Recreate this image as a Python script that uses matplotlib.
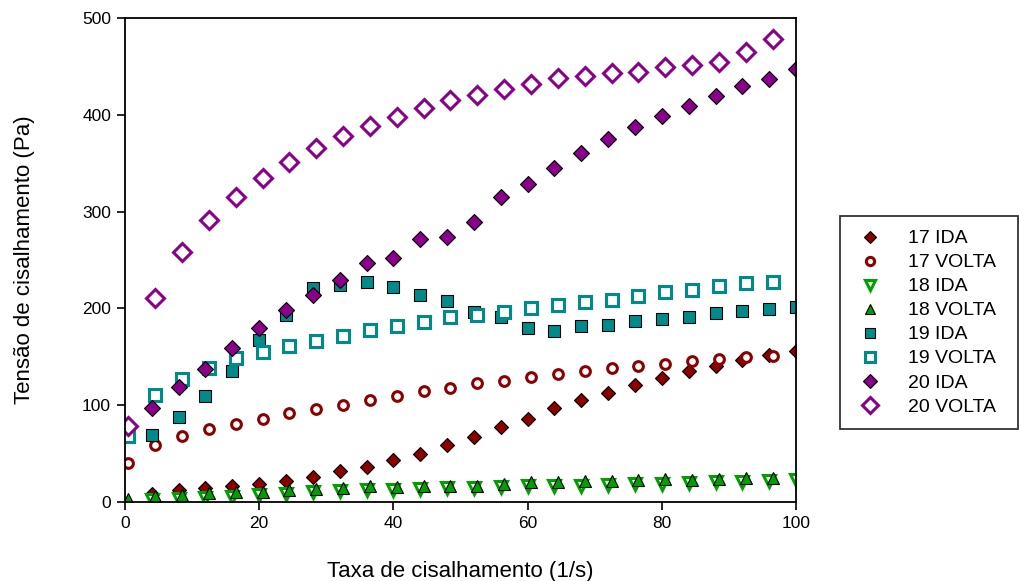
import matplotlib
matplotlib.use("Agg")
import matplotlib.pyplot as plt

plt.rcParams['font.family'] = ['Liberation Sans', 'DejaVu Sans']

# shear rate (1/s)
x_ida = [4, 8, 12, 16, 20, 24, 28, 32, 36, 40, 44, 48, 52, 56, 60,
         64, 68, 72, 76, 80, 84, 88, 92, 96, 100]
x_volta = [0.5, 4.5, 8.5, 12.5, 16.5, 20.5, 24.5, 28.5, 32.5, 36.5, 40.5, 44.5, 48.5,
           52.5, 56.5, 60.5, 64.5, 68.5, 72.5, 76.5, 80.5, 84.5, 88.5, 92.5, 96.5]

# shear stress (Pa)
s17_ida = [8, 12, 14, 16, 19, 22, 26, 32, 36, 43, 50, 59, 67, 77, 86,
           97, 105, 113, 121, 128, 135, 140, 147, 152, 156]
s17_volta = [40, 59, 68, 75, 81, 86, 92, 96, 100, 105, 110, 115, 118,
             123, 125, 129, 132, 135, 138, 140, 143, 146, 148, 150, 151]
s18_ida = [2, 3, 4, 5, 7, 8, 10, 11, 12, 12, 13, 14, 14, 15, 16,
           16, 17, 18, 19, 19, 20, 21, 21, 22, 23]
s18_volta = [3, 6, 7, 9, 10, 10, 12, 13, 14, 16, 15, 16, 17,
             17, 19, 21, 21, 22, 22, 23, 24, 23, 24, 25, 25]
s19_ida = [69, 88, 110, 135, 167, 193, 221, 224, 227, 222, 214, 208, 196, 191, 180,
           177, 182, 183, 187, 189, 191, 195, 197, 199, 201]
s19_volta = [68, 111, 127, 138, 149, 155, 161, 166, 171, 178, 182, 186, 191,
             193, 196, 200, 203, 207, 209, 213, 217, 219, 223, 226, 227]
s20_ida = [97, 119, 137, 159, 180, 198, 214, 229, 247, 252, 272, 274, 289, 315, 328,
           345, 361, 375, 387, 399, 409, 419, 430, 437, 447]
s20_volta = [78, 211, 258, 291, 315, 335, 351, 366, 378, 388, 398, 407, 415,
             420, 427, 432, 438, 440, 443, 444, 449, 451, 455, 465, 478]

red = '#8b0000'
green = '#00a000'
teal = '#008b8b'
purple = '#8b008b'

fig = plt.figure(figsize=(10.2, 5.81), dpi=100)
ax = fig.add_axes([0.1225, 0.136, 0.658, 0.833])

# filled markers -> black edge, open markers -> coloured edge, white fill
ax.plot(x_ida, s17_ida, 'D', color=red, mec='black', mew=0.8, ms=7, label='17 IDA', ls='none')
ax.plot(x_volta, s17_volta, 'o', mfc='white', mec=red, mew=2.2, ms=7, label='17 VOLTA', ls='none')
ax.plot(x_ida, s18_ida, 'v', mfc='white', mec=green, mew=2.2, ms=8, label='18 IDA', ls='none')
ax.plot(x_volta, s18_volta, '^', color=green, mec='black', mew=0.8, ms=8, label='18 VOLTA', ls='none')
ax.plot(x_ida, s19_ida, 's', color=teal, mec='black', mew=0.8, ms=8, label='19 IDA', ls='none')
ax.plot(x_volta, s19_volta, 's', mfc='white', mec=teal, mew=2.2, ms=8, label='19 VOLTA', ls='none')
ax.plot(x_ida, s20_ida, 'D', color=purple, mec='black', mew=0.8, ms=8, label='20 IDA', ls='none')
ax.plot(x_volta, s20_volta, 'D', mfc='white', mec=purple, mew=2.2, ms=9, label='20 VOLTA', ls='none')

ax.set_xlim(0, 100)
ax.set_ylim(0, 500)
ax.set_xticks([0, 20, 40, 60, 80, 100])
ax.set_yticks([0, 100, 200, 300, 400, 500])
ax.tick_params(direction='out', length=6, width=1.2, labelsize=12.5, pad=4)
for sp in ax.spines.values():
    sp.set_linewidth(1.3)
ax.set_xlabel('Taxa de cisalhamento (1/s)', fontsize=16, labelpad=22)
ax.set_ylabel('Tensão de cisalhamento (Pa)', fontsize=16, labelpad=34)

leg = fig.legend(loc='upper left', bbox_to_anchor=(0.8235, 0.256, 0.175, 0.372),
                 mode='expand', frameon=True, fancybox=False, shadow=False,
                 fontsize=14, labelspacing=0.33, borderpad=0.7, markerscale=0.85,
                 handlelength=1.7, handletextpad=1.1, borderaxespad=0)
leg.get_frame().set_edgecolor('black')
leg.get_frame().set_linewidth(1.3)

plt.savefig('out.png', dpi=100)
